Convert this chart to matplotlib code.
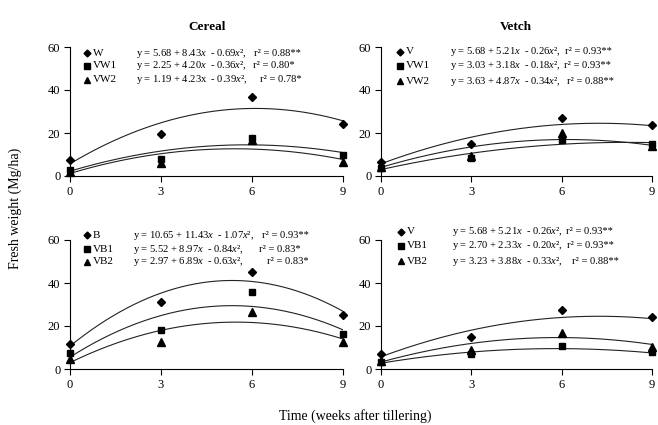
import numpy as np
from matplotlib import pyplot as plt

plt.rcParams['font.family'] = ['Liberation Serif', 'DejaVu Serif']
plt.rcParams['mathtext.fontset'] = 'custom'
plt.rcParams['mathtext.rm'] = 'Liberation Serif'
plt.rcParams['mathtext.it'] = 'Liberation Serif:italic'

weeks = [0, 3, 6, 9]

# observed points, top-left (cereal)
w_obs = [7.4, 19.4, 36.6, 24.0]
vw1_obs_c = [2.8, 7.8, 17.8, 9.6]
vw2_obs_c = [2.0, 5.9, 16.7, 6.7]
# top-right (vetch)
v_obs_t = [6.4, 14.9, 27.1, 23.7]
vw1_obs_v = [3.6, 8.2, 16.7, 14.7]
vw2_obs_v = [4.0, 9.3, 19.8, 14.0]
# bottom-left (cereal)
b_obs = [11.6, 31.0, 45.3, 25.1]
vb1_obs_c = [7.3, 18.1, 35.6, 16.1]
vb2_obs_c = [4.5, 12.4, 26.7, 12.4]
# bottom-right (vetch)
v_obs_b = [7.0, 14.9, 27.6, 24.2]
vb1_obs_v = [3.1, 7.1, 10.5, 7.7]
vb2_obs_v = [3.6, 9.0, 16.8, 10.2]

# fitted curve coefficients (a, b, c) as drawn
w_fit = [5.68, 8.43, -0.69]
vw1_fit_c = [2.25, 4.20, -0.36]
vw2_fit_c = [1.19, 4.23, -0.39]
v_fit = [5.68, 5.21, -0.36]
vw1_fit_v = [3.0, 3.1, -0.19]
vw2_fit_v = [4.0, 4.2, -0.34]
b_fit = [10.65, 11.43, -1.07]
vb1_fit_c = [5.52, 8.97, -0.84]
vb2_fit_c = [2.97, 6.89, -0.63]
vb1_fit_v = [2.70, 2.33, -0.20]
vb2_fit_v = [3.23, 3.88, -0.33]

names_tl = ['W', 'VW1', 'VW2']
eqs_tl = ['y = 5.68 + 8.43$x$  - 0.69$x$²,', 'y = 2.25 + 4.20$x$  - 0.36$x$²,',
          'y = 1.19 + 4.23x  - 0.39$x$²,']
r2_tl = ['r² = 0.88**', 'r² = 0.80*', 'r² = 0.78*']

names_tr = ['V', 'VW1', 'VW2']
eqs_tr = ['y = 5.68 + 5.21$x$  - 0.26$x$²,', 'y = 3.03 + 3.18$x$  - 0.18$x$²,',
          'y = 3.63 + 4.87$x$  - 0.34$x$²,']
r2_tr = ['r² = 0.93**', 'r² = 0.93**', 'r² = 0.88**']

names_bl = ['B', 'VB1', 'VB2']
eqs_bl = ['y = 10.65 + 11.43$x$  - 1.07$x$²,', 'y = 5.52 + 8.97$x$  - 0.84$x$²,',
          'y = 2.97 + 6.89$x$  - 0.63$x$²,']
r2_bl = ['r² = 0.93**', 'r² = 0.83*', 'r² = 0.83*']

names_br = ['V', 'VB1', 'VB2']
eqs_br = ['y = 5.68 + 5.21$x$  - 0.26$x$²,', 'y = 2.70 + 2.33$x$  - 0.20$x$²,',
          'y = 3.23 + 3.88$x$  - 0.33$x$²,']
r2_br = ['r² = 0.93**', 'r² = 0.93**', 'r² = 0.88**']

markers = ['D', 's', '^']
msizes = [4.0, 5.0, 5.5]

W, H = 658, 425
fig = plt.figure(figsize=(W / 100, H / 100), dpi=100)


def px_axes(x0, x1, y_top, y_bot):
    return fig.add_axes([x0 / W, (H - y_bot) / H, (x1 - x0) / W, (y_bot - y_top) / H])


def panel(ax, obs, fits, names, eqs, r2s, rows_y, mark_x, eq_x, r2_x):
    xs = np.linspace(0, 9, 200)
    for fit in fits:
        ax.plot(xs, np.polyval(fit[::-1], xs), color='#222222', lw=0.8)
    for o, m, ms in zip(obs, markers, msizes):
        ax.plot(weeks, o, linestyle='none', marker=m, ms=ms, color='black', clip_on=False, zorder=5)
    ax.set_xlim(0, 9)
    ax.set_ylim(0, 60)
    ax.set_xticks(weeks)
    ax.set_yticks([0, 20, 40, 60])
    for s in ['top', 'right']:
        ax.spines[s].set_visible(False)
    for s in ['left', 'bottom']:
        ax.spines[s].set_linewidth(0.8)
    ax.tick_params(length=4, width=0.8, labelsize=9, pad=3)
    # legend rows placed in figure pixels
    for i, (n, e, r) in enumerate(zip(names, eqs, r2s)):
        y = (H - rows_y[i]) / H
        fig.lines.append(plt.Line2D([mark_x / W], [y], marker=markers[i], ms=msizes[i] - 0.5,
                                    color='black', transform=fig.transFigure))
        fig.text((mark_x + 6) / W, y, n, fontsize=8, va='center')
        fig.text(eq_x / W, y, e, fontsize=7.6, va='center')
        fig.text(r2_x[i] / W, y, r, fontsize=7.6, va='center')


ax1 = px_axes(70, 343, 47, 176)
panel(ax1, [w_obs, vw1_obs_c, vw2_obs_c], [w_fit, vw1_fit_c, vw2_fit_c],
      names_tl, eqs_tl, r2_tl, [53, 66, 80], 87, 136, [254, 253, 260])

ax2 = px_axes(381, 652, 47, 176)
panel(ax2, [v_obs_t, vw1_obs_v, vw2_obs_v], [v_fit, vw1_fit_v, vw2_fit_v],
      names_tr, eqs_tr, r2_tr, [52, 66, 81], 400, 450, [565, 564, 567])

ax3 = px_axes(70, 343, 240, 369)
panel(ax3, [b_obs, vb1_obs_c, vb2_obs_c], [b_fit, vb1_fit_c, vb2_fit_c],
      names_bl, eqs_bl, r2_bl, [235, 249, 262], 87, 133, [262, 259, 267])

ax4 = px_axes(381, 652, 240, 369)
panel(ax4, [v_obs_b, vb1_obs_v, vb2_obs_v], [v_fit, vb1_fit_v, vb2_fit_v],
      names_br, eqs_br, r2_br, [232, 246, 261], 401, 452, [566, 567, 572])

fig.text(207 / W, (H - 27) / H, 'Cereal', fontsize=9.5, fontweight='bold', ha='center', va='center')
fig.text(516 / W, (H - 27) / H, 'Vetch', fontsize=9.5, fontweight='bold', ha='center', va='center')
fig.text(15 / W, (H - 208) / H, 'Fresh weight (Mg/ha)', fontsize=10, rotation=90,
         ha='center', va='center')
fig.text(355 / W, (H - 416) / H, 'Time (weeks after tillering)', fontsize=10,
         ha='center', va='center')

fig.savefig('out.png', dpi=100)
